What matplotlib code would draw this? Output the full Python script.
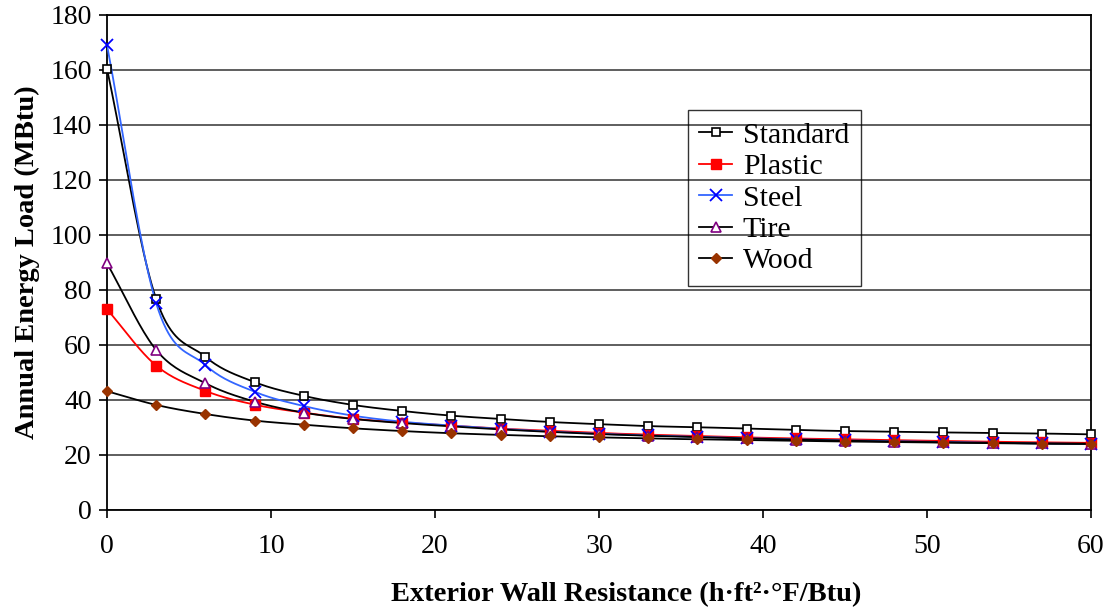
import numpy as np
import matplotlib
matplotlib.use("Agg")
import matplotlib.pyplot as plt

plt.rcParams['font.family'] = ['Liberation Serif', 'DejaVu Serif']

# wall resistance values (h.ft2.F/Btu)
resistance = [0, 3, 6, 9, 12, 15, 18, 21, 24, 27, 30, 33, 36, 39, 42, 45, 48, 51, 54, 57, 60]

standard = [160.5, 76.7, 55.7, 46.5, 41.5, 38.2, 36.0, 34.3, 33.1, 32.0, 31.2,
            30.5, 30.1, 29.6, 29.1, 28.7, 28.5, 28.2, 28.0, 27.8, 27.5]
plastic = [73.0, 52.5, 43.3, 38.3, 35.4, 33.2, 31.8, 30.7, 29.6, 28.8, 28.0,
           27.4, 26.9, 26.4, 26.0, 25.7, 25.4, 25.1, 24.8, 24.6, 24.4]
steel = [169.1, 75.2, 52.7, 43.0, 37.8, 34.3, 32.1, 30.7, 29.5, 28.5, 27.7,
         27.1, 26.6, 26.1, 25.7, 25.3, 25.0, 24.7, 24.4, 24.2, 24.0]
tire = [89.7, 58.2, 46.1, 39.4, 35.4, 33.1, 31.6, 30.4, 29.3, 28.4, 27.6,
        27.0, 26.5, 26.0, 25.6, 25.2, 24.9, 24.6, 24.4, 24.2, 24.1]
wood = [43.2, 38.2, 34.9, 32.5, 31.0, 29.7, 28.7, 27.9, 27.3, 26.8, 26.4,
        26.0, 25.7, 25.4, 25.1, 24.9, 24.7, 24.5, 24.3, 24.1, 24.0]


def smooth(x, y, n=20):
    # catmull-rom style smoothing, like excel's smoothed line
    x = np.asarray(x, float)
    y = np.asarray(y, float)
    px = np.concatenate([[2 * x[0] - x[1]], x, [2 * x[-1] - x[-2]]])
    py = np.concatenate([[2 * y[0] - y[1]], y, [2 * y[-1] - y[-2]]])
    xs, ys = [], []
    t = np.linspace(0, 1, n, endpoint=False)
    for i in range(1, len(px) - 2):
        for arr, out in ((px, xs), (py, ys)):
            p0, p1, p2, p3 = arr[i - 1], arr[i], arr[i + 1], arr[i + 2]
            m1 = (p2 - p0) / 6.0
            m2 = (p3 - p1) / 6.0
            b1 = p1 + m1
            b2 = p2 - m2
            out.extend((1 - t) ** 3 * p1 + 3 * (1 - t) ** 2 * t * b1
                       + 3 * (1 - t) * t ** 2 * b2 + t ** 3 * p2)
    xs.append(x[-1])
    ys.append(y[-1])
    return xs, ys


series = [
    ("Standard", standard, 'black', dict(marker='s', mfc='white', mec='black', ms=6, mew=1.2)),
    ("Plastic", plastic, 'red', dict(marker='s', mfc='red', mec='red', ms=7)),
    ("Steel", steel, '#3366ff', dict(marker='x', mfc='blue', mec='blue', ms=8, mew=1.3)),
    ("Tire", tire, 'black', dict(marker='^', mfc='white', mec='#800080', ms=7, mew=1.2)),
    ("Wood", wood, 'black', dict(marker='D', mfc='#993300', mec='#993300', ms=5)),
]

fig = plt.figure(figsize=(11.12, 6.09), dpi=100)
ax = fig.add_axes([0.0962, 0.1626, 0.8849, 0.8128])

handles = []
for name, vals, lc, mk in series:
    sx, sy = smooth(resistance, vals)
    ax.plot(sx, sy, color=lc, lw=1.3, zorder=3)
    ax.plot(resistance, vals, ls='none', zorder=4, clip_on=False, **mk)
    h, = ax.plot([], [], color=lc, lw=1.3, **mk)
    handles.append(h)

ax.set_xlim(0, 60)
ax.set_ylim(0, 180)
ax.set_xticks(np.arange(0, 61, 10))
ax.set_yticks(np.arange(0, 181, 20))
ax.yaxis.grid(True, color='#333333', lw=1.1)
ax.set_axisbelow(True)
for s in ax.spines.values():
    s.set_linewidth(1.3)
ax.tick_params(direction='out', length=6, width=1.2, labelsize=20)
ax.tick_params(axis='x', pad=11)
ax.tick_params(axis='y', pad=5)

ax.set_xlabel("Exterior Wall Resistance (h·ft²·°F/Btu)",
              fontsize=20.5, fontweight='bold', labelpad=17, x=0.528)
ax.set_ylabel("Annual Energy Load (MBtu)", fontsize=20.5, fontweight='bold', labelpad=7)

leg = ax.legend(handles, [s[0] for s in series], loc='upper left',
                bbox_to_anchor=(0.590, 0.808), fontsize=21.5, frameon=True,
                fancybox=False, handlelength=1.1, handletextpad=0.35,
                labelspacing=0.15, borderpad=0.4, borderaxespad=0)
leg.get_frame().set_edgecolor('black')
leg.get_frame().set_facecolor('none')
leg.get_frame().set_linewidth(1.0)

fig.savefig("out.png", dpi=100)
